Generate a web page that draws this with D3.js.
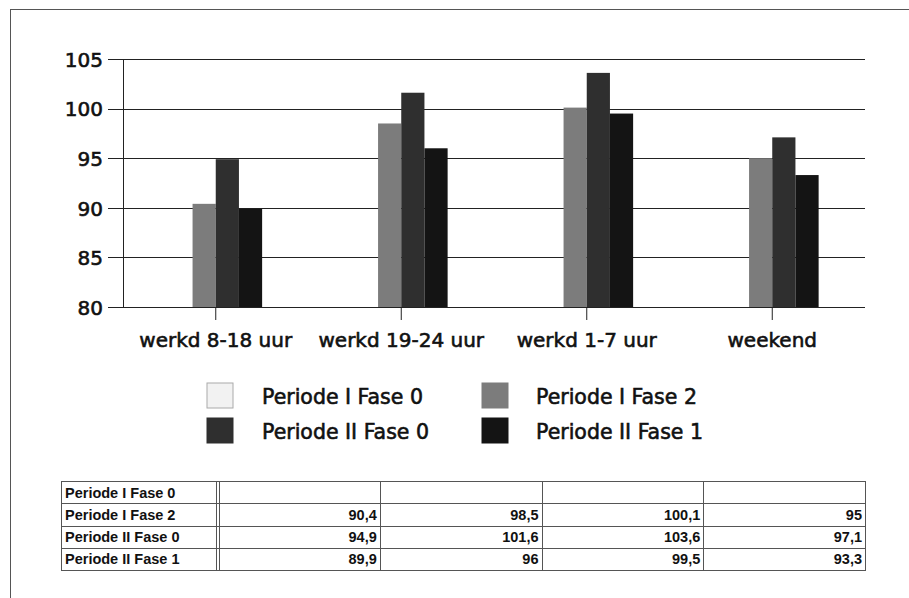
<!DOCTYPE html>
<html>
<head>
<meta charset="utf-8">
<script src="https://cdn.jsdelivr.net/npm/d3@7"></script>
<style>
  html, body { margin: 0; padding: 0; background: #fff; }
  svg text { fill: #111; }
  .big { font-family: "DejaVu Sans", sans-serif; stroke: #111; stroke-width: 0.6px; }
  .tbl { font-family: "Liberation Sans", Arial, sans-serif; }
</style>
</head>
<body>
<svg id="chart" width="909" height="598"></svg>
<script>
// ---- data ----
const categories = ["werkd 8-18 uur", "werkd 19-24 uur", "werkd 1-7 uur", "weekend"];
const seriesNames = ["Periode I Fase 0", "Periode I Fase 2", "Periode II Fase 0", "Periode II Fase 1"];
const periodeIFase0 = [null, null, null, null];
const periodeIFase2 = [90.4, 98.5, 100.1, 95];
const periodeIIFase0 = [94.9, 101.6, 103.6, 97.1];
const periodeIIFase1 = [89.9, 96, 99.5, 93.3];
const yTicks = [80, 85, 90, 95, 100, 105];

const seriesValues = [periodeIFase0, periodeIFase2, periodeIIFase0, periodeIIFase1];
const seriesColors = ["#f2f2f2", "#7c7c7c", "#2f2f2f", "#141414"];

const svg = d3.select("#chart");

// outer frame
svg.append("rect").attr("x", 10.5).attr("y", 9.5).attr("width", 906).attr("height", 600)
  .attr("fill", "none").attr("stroke", "#555").attr("stroke-width", 1);

const plot = { left: 123, right: 865, top: 59, bottom: 307 };

const x0 = d3.scaleBand().domain(categories).range([plot.left, plot.right])
  .paddingInner(0.5).paddingOuter(0.25);
const x1 = d3.scaleBand().domain(d3.range(seriesNames.length)).range([0, x0.bandwidth()]);
const y = d3.scaleLinear().domain([80, 105]).range([plot.bottom, plot.top]);

// gridlines + y axis
const yAxis = d3.axisLeft(y).tickValues(yTicks).tickSize(-(plot.right - plot.left)).tickPadding(20).tickFormat(d3.format("d"));
const gy = svg.append("g").attr("transform", `translate(${plot.left},0)`).call(yAxis);
gy.select(".domain").remove();
gy.selectAll(".tick line").attr("stroke", "#222").attr("stroke-width", 1).attr("shape-rendering", "crispEdges");
gy.selectAll(".tick").append("line").attr("x1", -15).attr("x2", 0).attr("stroke", "#222").attr("shape-rendering", "crispEdges");
gy.selectAll(".tick text").attr("class", "big").attr("font-size", 20).attr("fill", "#111").attr("dy", "0.36em");
svg.append("line").attr("x1", plot.left).attr("x2", plot.left).attr("y1", plot.top).attr("y2", plot.bottom)
  .attr("stroke", "#222").attr("shape-rendering", "crispEdges");

// bars
const groups = svg.append("g").selectAll("g").data(categories).join("g")
  .attr("transform", d => `translate(${x0(d)},0)`);
groups.selectAll("rect")
  .data((c, ci) => seriesValues.map((vals, si) => ({ si, v: vals[ci] })).filter(d => d.v != null))
  .join("rect")
  .attr("x", d => x1(d.si))
  .attr("width", x1.bandwidth())
  .attr("y", d => y(d.v))
  .attr("height", d => y(80) - y(d.v))
  .attr("fill", d => seriesColors[d.si]);

// x axis
const xAxis = d3.axisBottom(x0).tickSize(13).tickPadding(13);
const gx = svg.append("g").attr("transform", `translate(0,${plot.bottom})`).call(xAxis);
gx.select(".domain").attr("d", `M${plot.left},0.5H${plot.right}`).attr("stroke", "#222");
gx.selectAll(".tick line").attr("stroke", "#222");
gx.selectAll(".tick text").attr("class", "big").attr("font-size", 20).attr("fill", "#111");
gx.attr("font-family", null);
gy.attr("font-family", null);

// legend
const legendPos = [
  { sx: 207, tx: 262, y: 383 },
  { sx: 482, tx: 536, y: 383 },
  { sx: 207, tx: 262, y: 418 },
  { sx: 482, tx: 536, y: 418 }
];
seriesNames.forEach((name, i) => {
  const p = legendPos[i];
  svg.append("rect").attr("x", p.sx).attr("y", p.y).attr("width", 26).attr("height", 25)
    .attr("fill", seriesColors[i]).attr("stroke", i === 0 ? "#aaa" : seriesColors[i]);
  svg.append("text").attr("class", "big").attr("x", p.tx).attr("y", p.y + 21).attr("font-size", 20.5)
    .text(name);
});

// data table
const fmt = v => v == null ? "" : String(v).replace(".", ",");
const tbl = { left: 61, labelRight: 218, right: 865, top: 481, rowH: 22.3 };
const colW = (tbl.right - tbl.labelRight) / categories.length;
const tg = svg.append("g");
seriesNames.forEach((name, r) => {
  const ry = tbl.top + r * tbl.rowH;
  tg.append("rect").attr("x", tbl.left + 0.5).attr("y", ry + 0.5).attr("width", tbl.right - tbl.left).attr("height", tbl.rowH)
    .attr("fill", "none").attr("stroke", "#555").attr("shape-rendering", "crispEdges");
  tg.append("text").attr("class", "tbl").attr("x", tbl.left + 4).attr("y", ry + 16.5).attr("font-size", 14.5).attr("font-weight", "bold").text(name);
  categories.forEach((c, ci) => {
    tg.append("text").attr("class", "tbl").attr("x", tbl.labelRight + (ci + 1) * colW - 3).attr("y", ry + 16.5)
      .attr("text-anchor", "end").attr("font-size", 14.5).attr("font-weight", "bold")
      .text(fmt(seriesValues[r][ci]));
  });
});
// column lines
[tbl.labelRight - 2, tbl.labelRight + 1].forEach(xx => {
  tg.append("line").attr("x1", xx + 0.5).attr("x2", xx + 0.5).attr("y1", tbl.top).attr("y2", tbl.top + 4 * tbl.rowH)
    .attr("stroke", "#555");
});
categories.forEach((c, ci) => {
  const xx = Math.round(tbl.labelRight + (ci + 1) * colW) + 0.5;
  tg.append("line").attr("x1", xx).attr("x2", xx).attr("y1", tbl.top).attr("y2", tbl.top + 4 * tbl.rowH)
    .attr("stroke", "#555");
});
</script>
</body>
</html>
